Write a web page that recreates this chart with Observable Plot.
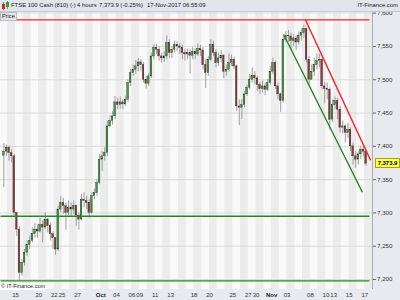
<!DOCTYPE html>
<html><head><meta charset="utf-8">
<script src="https://cdn.jsdelivr.net/npm/d3@7"></script>
<script src="https://cdn.jsdelivr.net/npm/@observablehq/plot@0.6"></script>
<style>
html,body{margin:0;padding:0;background:#fff;}
#wrap{position:relative;width:400px;height:300px;background:#e8eaef;overflow:hidden;font-family:"Liberation Sans",Arial,sans-serif;}
#chart{position:absolute;left:0;top:0;}
#hdr{position:absolute;left:0;top:0;width:400px;height:11px;background:#e2e5ec;border-bottom:1px solid #c5c9d2;font-size:5.9px;color:#1a1a1a;white-space:nowrap;}
#hdr span{position:absolute;top:2.3px;}
#price{position:absolute;left:0;top:12px;height:7px;padding:0 1px;background:#e2e5ec;border:1px solid #b8bcc6;font-size:5.6px;line-height:7px;color:#222;}
#copy{position:absolute;left:0;top:283px;height:7px;padding:0 1px;background:#fff;font-size:5.6px;line-height:7px;color:#222;}
#tag{position:absolute;left:375px;height:8px;width:23px;background:#ffff55;border:1px solid #b0a000;font-size:5.9px;line-height:8px;text-align:center;color:#000;font-weight:bold;}
</style></head>
<body>
<div id="wrap">
  <div id="chart"></div>
  <div id="hdr">
    <svg width="9" height="10" style="position:absolute;left:1px;top:1px">
      <line x1="2.5" y1="1" x2="2.5" y2="9" stroke="#888"/><rect x="1" y="3" width="3" height="5" fill="#d22"/>
      <line x1="6.5" y1="0" x2="6.5" y2="8" stroke="#888"/><rect x="5" y="1" width="3" height="5" fill="#2a2"/>
    </svg>
    <span style="left:11px">FTSE 100 Cash (810) (-)</span>
    <span style="left:77px">4 hours</span>
    <span style="left:99px">7,373.9 (-0.25%)</span>
    <span style="left:147px">17-Nov-2017 06:55:09</span>
    <span style="right:2px">IT-Finance.com</span>
  </div>
  <div id="price">Price</div>
  <div id="copy">© IT-Finance.com</div>
  <div id="tag">7,373.9</div>
</div>
<script>
// Candles: 3 bars per trading day, starting with the last two bars of 13-Sep-2017
const firstOpen = 7386;
const closes = [
  7392, 7398,
  7390, 7385, 7300,   7275, 7210, 7225,   7240, 7252, 7258,   7268, 7275, 7272,
  7282, 7278, 7290,   7280, 7268, 7262,   7245, 7305, 7315,   7310, 7300, 7308,
  7305, 7310, 7296,   7290, 7320, 7318,   7315, 7300, 7325,   7330, 7345, 7380,
  7385, 7390, 7430,   7438, 7445, 7466,   7462, 7466, 7463,   7470, 7495, 7510,
  7515, 7520, 7526,   7522, 7500, 7494,   7505, 7535, 7548,   7545, 7535, 7532,
  7535, 7555, 7540,   7545, 7552, 7550,   7548, 7540, 7538,   7540, 7536, 7542,
  7538, 7546, 7544,   7522, 7510, 7530,   7552, 7540, 7525,   7532, 7536, 7512,
  7515, 7525, 7530,   7520, 7460, 7458,   7462, 7478, 7488,   7500, 7506, 7502,
  7492, 7486, 7490,   7485, 7495, 7512,   7525, 7490, 7478,   7468, 7560, 7566,
  7565, 7558, 7562,   7556, 7566, 7570,   7576, 7530, 7500,   7512, 7522, 7528,
  7530, 7490, 7486,   7485, 7440, 7462,   7468, 7455, 7428,   7430, 7420, 7425,
  7400, 7385, 7380,   7388, 7395, 7392,   7373.9
];
const highs = [
  7404, 7402,
  7400, 7395, 7388,   7300, 7280, 7230,   7245, 7258, 7265,   7278, 7284, 7282,
  7292, 7288, 7300,   7292, 7285, 7272,   7262, 7310, 7325,   7322, 7315, 7318,
  7315, 7318, 7312,   7300, 7328, 7330,   7325, 7320, 7330,   7336, 7350, 7388,
  7392, 7398, 7438,   7446, 7452, 7475,   7472, 7474, 7470,   7476, 7500, 7516,
  7522, 7529, 7532,   7530, 7526, 7505,   7510, 7540, 7553,   7553, 7550, 7540,
  7542, 7566, 7560,   7550, 7558, 7557,   7555, 7552, 7546,   7546, 7545, 7548,
  7546, 7554, 7552,   7548, 7530, 7535,   7560, 7558, 7545,   7540, 7544, 7538,
  7522, 7539, 7537,   7534, 7522, 7470,   7470, 7482, 7492,   7508, 7518, 7512,
  7505, 7496, 7498,   7495, 7500, 7520,   7532, 7528, 7495,   7480, 7566, 7572,
  7574, 7570, 7568,   7566, 7572, 7576,   7582, 7578, 7535,   7522, 7532, 7539,
  7538, 7532, 7496,   7495, 7488, 7470,   7474, 7472, 7460,   7438, 7432, 7434,
  7428, 7405, 7392,   7392, 7400, 7402,   7394
];
const lows = [
  7338, 7385,
  7378, 7375, 7295,   7265, 7197, 7205,   7220, 7235, 7245,   7255, 7262, 7262,
  7270, 7255, 7275,   7270, 7258, 7245,   7236, 7242, 7300,   7298, 7274, 7296,
  7295, 7298, 7280,   7274, 7288, 7308,   7305, 7292, 7298,   7320, 7325, 7342,
  7362, 7378, 7385,   7428, 7432, 7440,   7455, 7456, 7455,   7460, 7466, 7490,
  7505, 7508, 7512,   7512, 7495, 7486,   7490, 7502, 7530,   7538, 7528, 7525,
  7526, 7530, 7532,   7532, 7540, 7542,   7538, 7530, 7528,   7530, 7509, 7530,
  7530, 7535, 7535,   7515, 7487, 7505,   7528, 7535, 7518,   7520, 7525, 7502,
  7505, 7512, 7520,   7515, 7452, 7431,   7440, 7458, 7475,   7485, 7495, 7492,
  7482, 7478, 7480,   7476, 7482, 7492,   7508, 7485, 7470,   7451, 7465, 7555,
  7556, 7545, 7550,   7544, 7552, 7558,   7562, 7525, 7491,   7500, 7505, 7515,
  7518, 7485, 7464,   7470, 7424, 7436,   7455, 7440, 7420,   7418, 7405, 7412,
  7392, 7372, 7367,   7372, 7380, 7384,   7370
];
const barsPerDay = 3;
const firstSlot = 1; // first bar is slot 1 of day -1 (13-Sep)

// trend lines drawn on the chart (trading-day index, price)
const lineX1 = [-0.93, -0.93, -0.93, 38.35, 35.55];
const lineX2 = [46.6, 46.6, 46.6, 46.75, 45.7];
const lineY1 = [7590, 7295, 7198, 7590, 7568];
const lineY2 = [7590, 7295, 7198, 7379, 7331];
const lineColor = ["#ff1e1e", "#1c8c1c", "#1c8c1c", "#ff1e1e", "#1c8c1c"];

// axes
const yTicks = [7200, 7250, 7300, 7350, 7400, 7450, 7500, 7550, 7600];
const xTickDay = [1, 4, 6, 7, 9, 12, 14, 16, 17, 19, 21, 24, 26, 29, 31, 32, 34, 36, 39, 41, 42, 44, 46];
const xTickLabel = ["15","20","22","25","27","Oct","04","06","09","11","13","18","20","25","27","30","Nov","03","08","10","13","15","17"];
const lastPrice = 7373.9;

const xMin = -0.933, xMax = 47.0, yMin = 7185, yMax = 7601;

const candles = closes.map((c, i) => {
  const open = i === 0 ? firstOpen : closes[i - 1];
  const pos = -1 + (i + firstSlot + 0.5) / barsPerDay;
  return {pos, open, close: c,
    high: Math.max(highs[i], open, c), low: Math.min(lows[i], open, c),
    up: c >= open};
});
const days = d3.range(-1, 47).map(d => ({d, x1: Math.max(d, xMin), x2: Math.min(d + 1, xMax)}));
const segs = lineX1.map((x, i) => ({x1: x, x2: lineX2[i], y1: lineY1[i], y2: lineY2[i], c: lineColor[i]}));
const xTicks = xTickDay.map((d, i) => ({d, label: xTickLabel[i], bold: /[A-Za-z]/.test(xTickLabel[i])}));
const bw = 0.1;

const chart = Plot.plot({
  width: 400, height: 300,
  marginTop: 12, marginBottom: 11, marginLeft: 0, marginRight: 28,
  x: {domain: [xMin, xMax], axis: null},
  y: {domain: [yMin, yMax], axis: null},
  style: {background: "transparent", fontFamily: "Liberation Sans, Arial, sans-serif", overflow: "visible"},
  marks: [
    Plot.rect(days, {x1: "x1", x2: "x2", y1: () => yMin, y2: () => yMax, fill: d => d.d % 2 === 0 ? "#ececec" : "#f9f9f9"}),
    Plot.ruleY(yTicks, {stroke: "#d6d6d6", strokeWidth: 0.8}),
    Plot.ruleX(candles, {x: "pos", y1: "low", y2: "high", stroke: "#8a8a8a", strokeWidth: 0.8}),
    Plot.rect(candles, {x1: d => d.pos - bw, x2: d => d.pos + bw, y1: "open", y2: "close",
      fill: d => d.up ? "#3a9e3a" : "#9a3434", stroke: "#222", strokeWidth: 0.35}),
    Plot.link(segs, {x1: "x1", y1: "y1", x2: "x2", y2: "y2", stroke: "c", strokeWidth: 1.4}),
    Plot.ruleX([xMax], {stroke: "#a9adb5", strokeWidth: 1}),
    Plot.axisY(yTicks, {anchor: "right", tickFormat: d3.format(","), tickSize: 3, tickPadding: 1.5,
      fontSize: 6.2, stroke: "#666", fill: "#333"}),
    Plot.text(xTicks.filter(t => !t.bold), {x: "d", text: "label", frameAnchor: "bottom", dy: 7, fontSize: 6, fill: "#333"}),
    Plot.text(xTicks.filter(t => t.bold), {x: "d", text: "label", frameAnchor: "bottom", dy: 7, fontSize: 6, fontWeight: "bold", fill: "#222"})
  ]
});
document.getElementById("chart").appendChild(chart);
const yPix = chart.scale("y").apply(lastPrice);
document.getElementById("tag").style.top = (yPix - 5) + "px";
</script>
</body></html>
